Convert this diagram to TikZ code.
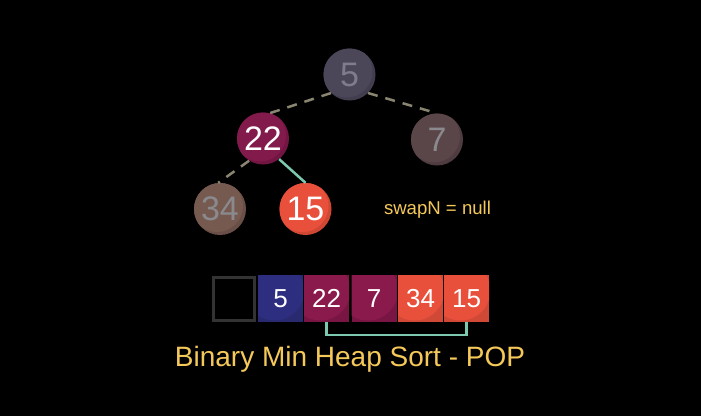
\documentclass[tikz,border=0pt]{standalone}
\usepackage{fontspec}
\setmainfont{Liberation Sans}
\definecolor{bg}{HTML}{000000}
\definecolor{edgegray}{HTML}{8A8570}
\definecolor{teal}{HTML}{7DC9B0}
\definecolor{yel}{HTML}{F5C85A}
\definecolor{cfiveL}{HTML}{4B4658}\definecolor{cfiveD}{HTML}{423D4F}
\definecolor{ctwtwL}{HTML}{821A4C}\definecolor{ctwtwD}{HTML}{721543}
\definecolor{csevL}{HTML}{5A4549}\definecolor{csevD}{HTML}{4E3C40}
\definecolor{cthfL}{HTML}{765A50}\definecolor{cthfD}{HTML}{694F47}
\definecolor{cfifL}{HTML}{E8503C}\definecolor{cfifD}{HTML}{D04834}
\definecolor{bblueL}{HTML}{2E2E80}\definecolor{bblueD}{HTML}{292970}
\definecolor{bmagL}{HTML}{8A1A4C}\definecolor{bmagD}{HTML}{781543}
\definecolor{borL}{HTML}{E8503C}\definecolor{borD}{HTML}{CF4936}
\definecolor{dimtext}{HTML}{8A8A8E}
\definecolor{fivetext}{HTML}{7F7C8E}
\definecolor{emptybox}{HTML}{333333}
\tikzset{
  hc/.style 2 args={circle, minimum size=52pt, inner sep=0pt, fill=#2,
    font=\fontsize{34}{36}\selectfont,
    path picture={\fill[#1] ([shift={(-3pt,3pt)}]path picture bounding box.center) circle (26pt);}},
  hb/.style 2 args={rectangle, minimum width=45pt, minimum height=47pt, inner sep=0pt, fill=#2,
    text=white, font=\fontsize{26}{28}\selectfont,
    path picture={\fill[#1] ([shift={(-6pt,8pt)}]path picture bounding box.center) circle (30pt);}},
  dedge/.style={draw=edgegray, line width=2.5pt, dash pattern=on 10pt off 8pt},
  tedge/.style={draw=teal, line width=2.5pt},
}
\begin{document}
\begin{tikzpicture}[x=1pt,y=-1pt]
\fill[bg] (0,0) rectangle (701,416);
\useasboundingbox (0,0) rectangle (701,416);
% tree nodes
\node[hc={cfiveL}{cfiveD}, text=fivetext] (n5) at (349.5,74.5) {5};
\node[hc={ctwtwL}{ctwtwD}, text=white] (n22) at (263,138.5) {22};
\node[hc={csevL}{csevD}, text=dimtext] (n7) at (437,139.5) {7};
\node[hc={cthfL}{cthfD}, text=dimtext] (n34) at (220,209) {34};
\node[hc={cfifL}{cfifD}, text=white] (n15) at (305.5,209) {15};
% edges
\draw[dedge] (n5.225) -- (n22.75);
\draw[dedge] (n5.-45) -- (n7.north);
\draw[dedge] (n22.238) -- (n34.94);
\draw[tedge] (n22.-52) -- (n15.north);
% label
\node[text=yel, font=\fontsize{18.6}{20}\selectfont] (swap) at (437.5,210) {swapN = null};
% array
\node[rectangle, minimum width=41pt, minimum height=43pt, draw=emptybox, line width=3pt] (b0) at (234,298.5) {};
\node[hb={bblueL}{bblueD}] (b1) at (280.5,298.5) {5};
\node[hb={bmagL}{bmagD}] (b2) at (326.5,298.5) {22};
\node[hb={bmagL}{bmagD}] (b3) at (374,298.5) {7};
\node[hb={borL}{borD}] (b4) at (420.5,298.5) {34};
\node[hb={borL}{borD}] (b5) at (466.5,298.5) {15};
\draw[tedge] (b2.south) -- ++(0,13) -| (b5.south);
% title
\node[text=yel, font=\fontsize{28}{30}\selectfont] (title) at (350,359) {Binary Min Heap Sort - POP};
\end{tikzpicture}
\end{document}
